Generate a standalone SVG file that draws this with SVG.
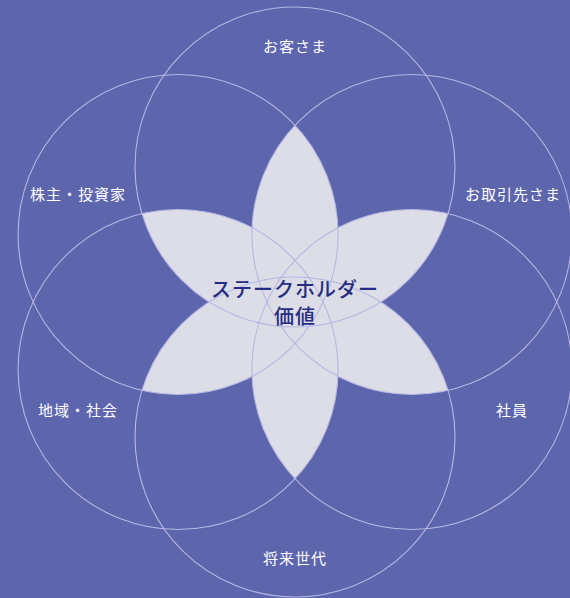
<svg xmlns="http://www.w3.org/2000/svg" width="570" height="598" viewBox="0 0 570 598">
<style>
.bg{fill:#5d65ad}
.petal{fill:#dcdde6;stroke:none}
.ring{fill:none;stroke:#b6b7e4;stroke-width:1.1}
.lbl{font-family:"Noto Sans CJK JP","Noto Sans",sans-serif;font-size:15px;font-weight:400;fill:#ffffff;text-anchor:middle;letter-spacing:1px}
.ctr{font-family:"Noto Sans CJK JP","Noto Sans",sans-serif;font-size:20px;font-weight:500;fill:#262c82;text-anchor:middle;letter-spacing:1px}
</style>
<defs>
<path id="petal" class="petal" d="M295 125.27 A160 160 0 0 1 295 343.73 A160 160 0 0 1 295 125.27 Z"/>
</defs>
<rect class="bg" x="0" y="0" width="570" height="598"/>
<g id="petals">
<use href="#petal"/>
<use href="#petal" transform="rotate(60 295 302)"/>
<use href="#petal" transform="rotate(120 295 302)"/>
<use href="#petal" transform="rotate(180 295 302)"/>
<use href="#petal" transform="rotate(240 295 302)"/>
<use href="#petal" transform="rotate(300 295 302)"/>
</g>
<g id="circles">
<circle class="ring" cx="295" cy="167" r="160"/>
<circle class="ring" cx="411.91" cy="234.5" r="160"/>
<circle class="ring" cx="411.91" cy="369.5" r="160"/>
<circle class="ring" cx="295" cy="437" r="160"/>
<circle class="ring" cx="178.09" cy="369.5" r="160"/>
<circle class="ring" cx="178.09" cy="234.5" r="160"/>
</g>
<g id="customers"><text class="lbl" x="295" y="52">お客さま</text></g>
<g id="partners"><text class="lbl" x="513" y="200">お取引先さま</text></g>
<g id="employees"><text class="lbl" x="512" y="416">社員</text></g>
<g id="future"><text class="lbl" x="295" y="564">将来世代</text></g>
<g id="community"><text class="lbl" x="78" y="416">地域・社会</text></g>
<g id="shareholders"><text class="lbl" x="78" y="200">株主・投資家</text></g>
<g id="center">
<text class="ctr" x="295" y="297">ステークホルダー</text>
<text class="ctr" x="295" y="324">価値</text>
</g>
</svg>
